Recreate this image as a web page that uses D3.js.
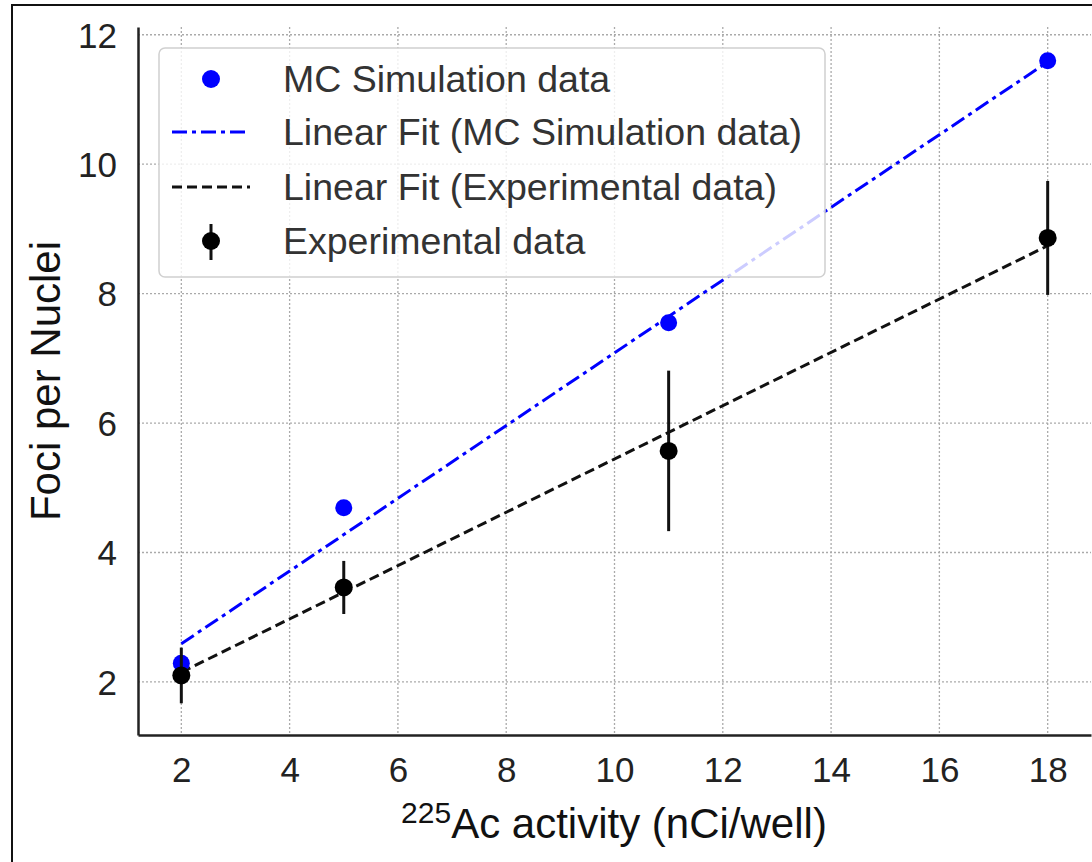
<!DOCTYPE html>
<html>
<head>
<meta charset="utf-8">
<script src="https://cdn.jsdelivr.net/npm/d3@7"></script>
<style>
  html, body { margin: 0; padding: 0; background: #fff; }
  svg { display: block; font-family: "Liberation Sans", Arial, sans-serif; }
</style>
</head>
<body>
<svg id="chart" width="1092" height="862"></svg>
<script>
// ---- data ----
const xValues = [2, 5, 11, 18];
const mcValues = [2.29, 4.69, 7.55, 11.60];
const expValues = [2.10, 3.46, 5.57, 8.86];
const expErrors = [0.43, 0.41, 1.24, 0.88];
const fitX = [2, 18];
const mcFit = [2.59, 11.58];
const expFit = [2.15, 8.74];
const xTicks = [2, 4, 6, 8, 10, 12, 14, 16, 18];
const yTicks = [2, 4, 6, 8, 10, 12];
const legendLabels = ["MC Simulation data", "Linear Fit (MC Simulation data)", "Linear Fit (Experimental data)", "Experimental data"];

(function () {
const svg = d3.select("#chart");
const pLeft = 138, pRight = 1091, pTop = 27, pBottom = 735;
const x = d3.scaleLinear().domain([1.2, 18.8]).range([pLeft, pRight]);
const y = d3.scaleLinear().domain([1.18, 12.12]).range([pBottom, pTop]);

// outer frame
svg.append("rect").attr("x", 12).attr("y", 5).attr("width", 1200).attr("height", 1000)
  .attr("fill", "none").attr("stroke", "#111").attr("stroke-width", 2);

// grid
const grid = svg.append("g");
grid.selectAll("line.gx").data(xTicks).join("line")
  .attr("x1", d => x(d)).attr("x2", d => x(d)).attr("y1", pTop).attr("y2", pBottom)
  .attr("stroke", "#aaa").attr("stroke-width", 1.3).attr("stroke-dasharray", "2,2");
grid.selectAll("line.gy").data(yTicks).join("line")
  .attr("x1", pLeft).attr("x2", pRight).attr("y1", d => y(d)).attr("y2", d => y(d))
  .attr("stroke", "#aaa").attr("stroke-width", 1.3).attr("stroke-dasharray", "2,2");

// axes
const xAxis = d3.axisBottom(x).tickValues(xTicks).tickSize(0).tickPadding(22).tickFormat(d3.format("d"));
const yAxis = d3.axisLeft(y).tickValues(yTicks).tickSize(0).tickPadding(21).tickFormat(d3.format("d"));
const gx = svg.append("g").attr("transform", `translate(0,${pBottom})`).call(xAxis);
const gy = svg.append("g").attr("transform", `translate(${pLeft},0)`).call(yAxis);
[gx, gy].forEach(g => {
  g.select(".domain").attr("stroke", "#222").attr("stroke-width", 2.5);
  g.selectAll("text").attr("font-size", 35).attr("fill", "#222")
    .attr("font-family", "'Liberation Sans', Arial, sans-serif");
});
gx.selectAll(".tick text").attr("dy", "0.71em");
gy.selectAll(".tick text").attr("dy", "0.35em");

// labels
const xl = svg.append("text").attr("x", 614).attr("y", 838).attr("text-anchor", "middle")
  .attr("font-size", 42).attr("fill", "#111");
xl.append("tspan").attr("font-size", 30).attr("dy", -15).text("225");
xl.append("tspan").attr("dy", 15).text("Ac activity (nCi/well)");

svg.append("text").attr("transform", "translate(60,381) rotate(-90)").attr("text-anchor", "middle")
  .attr("font-size", 42).attr("fill", "#111").text("Foci per Nuclei");

// fit lines
const line = d3.line().x(d => x(d[0])).y(d => y(d[1]));
svg.append("path").datum(fitX.map((d, i) => [d, mcFit[i]])).attr("d", line)
  .attr("fill", "none").attr("stroke", "#0000ff").attr("stroke-width", 3)
  .attr("stroke-dasharray", "15,5,4,5");
svg.append("path").datum(fitX.map((d, i) => [d, expFit[i]])).attr("d", line)
  .attr("fill", "none").attr("stroke", "#111").attr("stroke-width", 3)
  .attr("stroke-dasharray", "10,5");

// MC points
svg.selectAll("circle.mc").data(xValues).join("circle")
  .attr("cx", d => x(d)).attr("cy", (d, i) => y(mcValues[i])).attr("r", 8.5)
  .attr("fill", "#0000ff");

// experimental error bars + points
svg.selectAll("line.err").data(xValues).join("line")
  .attr("x1", d => x(d)).attr("x2", d => x(d))
  .attr("y1", (d, i) => y(expValues[i] - expErrors[i]))
  .attr("y2", (d, i) => y(expValues[i] + expErrors[i]))
  .attr("stroke", "#111").attr("stroke-width", 3);
svg.selectAll("circle.exp").data(xValues).join("circle")
  .attr("cx", d => x(d)).attr("cy", (d, i) => y(expValues[i])).attr("r", 9)
  .attr("fill", "#000");

// legend
const lg = svg.append("g");
lg.append("rect").attr("x", 159).attr("y", 48).attr("width", 666).attr("height", 229)
  .attr("rx", 6).attr("fill", "#fff").attr("fill-opacity", 0.8)
  .attr("stroke", "#d0d0d0").attr("stroke-width", 1.5);
const rowY = [79, 132, 187, 241];
lg.append("circle").attr("cx", 211).attr("cy", rowY[0]).attr("r", 9).attr("fill", "#0000ff");
lg.append("line").attr("x1", 172).attr("x2", 250).attr("y1", rowY[1]).attr("y2", rowY[1])
  .attr("stroke", "#0000ff").attr("stroke-width", 3).attr("stroke-dasharray", "15,5,4,5");
lg.append("line").attr("x1", 172).attr("x2", 250).attr("y1", rowY[2]).attr("y2", rowY[2])
  .attr("stroke", "#111").attr("stroke-width", 3).attr("stroke-dasharray", "10,5");
lg.append("line").attr("x1", 211).attr("x2", 211).attr("y1", rowY[3] - 17).attr("y2", rowY[3] + 19)
  .attr("stroke", "#111").attr("stroke-width", 3);
lg.append("circle").attr("cx", 211).attr("cy", rowY[3]).attr("r", 9).attr("fill", "#000");
lg.selectAll("text.lt").data(legendLabels).join("text")
  .attr("x", 283).attr("y", (d, i) => rowY[i]).attr("dy", "0.35em")
  .attr("font-size", 37.5).attr("fill", "#333").text(d => d);
})();
</script>
</body>
</html>
